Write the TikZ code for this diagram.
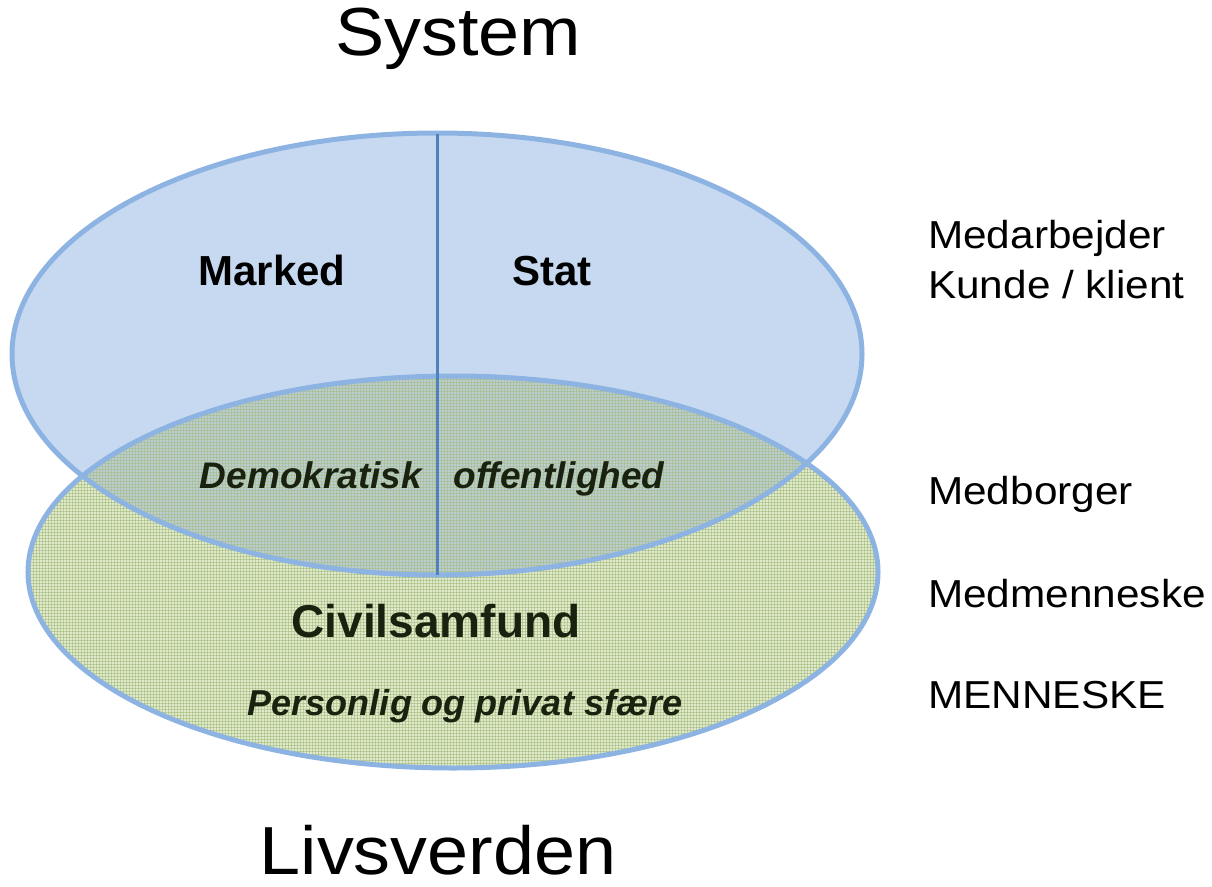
\documentclass[tikz,border=0pt]{standalone}
\usepackage{fontspec}
\usepackage{graphicx}
\setmainfont{Liberation Sans}
\usetikzlibrary{patterns}
\definecolor{bluefill}{HTML}{C6D9F1}
\definecolor{blueedge}{HTML}{8DB3E2}
\definecolor{blueline}{HTML}{4F81BD}
\definecolor{greenfill}{HTML}{E2EACD}
\definecolor{greenpat}{HTML}{9DB873}
\definecolor{overfill}{HTML}{BCCDCF}
\definecolor{darktext}{HTML}{18220E}
\newcommand{\wx}[1]{\scalebox{1.085}[1]{#1}}
\tikzset{
  lbl/.style={inner sep=0pt, anchor=base},
  side/.style={inner sep=0pt, anchor=base west, font=\fontsize{39}{44}\selectfont},
  big/.style={inner sep=0pt, anchor=base, font=\fontsize{68}{76}\selectfont},
  edge/.style={draw=blueedge, line width=5pt},
}
\begin{document}
\begin{tikzpicture}[x=1pt,y=-1pt]
\useasboundingbox (0,0) rectangle (1212,886);
% green ellipse (Livsverden)
\fill[greenfill] (453,572) ellipse [x radius=425, y radius=196];
\fill[pattern=grid, pattern color=greenpat, opacity=0.55] (453,572) ellipse [x radius=425, y radius=196];
% blue ellipse (System)
\fill[bluefill] (437,354) ellipse [x radius=425, y radius=221];
% overlap
\begin{scope}
  \clip (453,572) ellipse [x radius=425, y radius=196];
  \fill[overfill] (437,354) ellipse [x radius=425, y radius=221];
  \fill[pattern=grid, pattern color=greenpat, opacity=0.45] (437,354) ellipse [x radius=425, y radius=221];
\end{scope}
% outlines
\draw[edge] (453,572) ellipse [x radius=425, y radius=196];
\draw[edge] (437,354) ellipse [x radius=425, y radius=221];
% divider
\coordinate (top) at (437,134);
\coordinate (bot) at (437,575);
\draw[blueline, line width=3pt] (top) -- (bot);
% titles
\node[big] (system) at (458,55) {\wx{System}};
\node[big] (livs) at (438,874) {\wx{Livsverden}};
% inner labels
\node[lbl, font=\bfseries\fontsize{42}{48}\selectfont] (marked) at (272,285) {Marked};
\node[lbl, font=\bfseries\fontsize{42}{48}\selectfont] (stat) at (552,285) {Stat};
\node[lbl, text=darktext, font=\bfseries\itshape\fontsize{37}{42}\selectfont] (demo) at (311,488) {Demokratisk};
\node[lbl, text=darktext, font=\bfseries\itshape\fontsize{37}{42}\selectfont] (off) at (559,488) {offentlighed};
\node[lbl, text=darktext, font=\bfseries\fontsize{46}{52}\selectfont] (civil) at (436,637) {Civilsamfund};
\node[lbl, text=darktext, font=\bfseries\itshape\fontsize{36}{42}\selectfont] (pers) at (465,715) {Personlig og privat sfære};
% right column
\node[side] (medarb) at (928,248) {\wx{Medarbejder}};
\node[side] (kunde) at (928,298) {\wx{Kunde / klient}};
\node[side] (medborg) at (928,504) {\wx{Medborger}};
\node[side] (medmen) at (928,607) {\wx{Medmenneske}};
\node[side] (menn) at (928,708) {\wx{MENNESKE}};
\end{tikzpicture}
\end{document}
